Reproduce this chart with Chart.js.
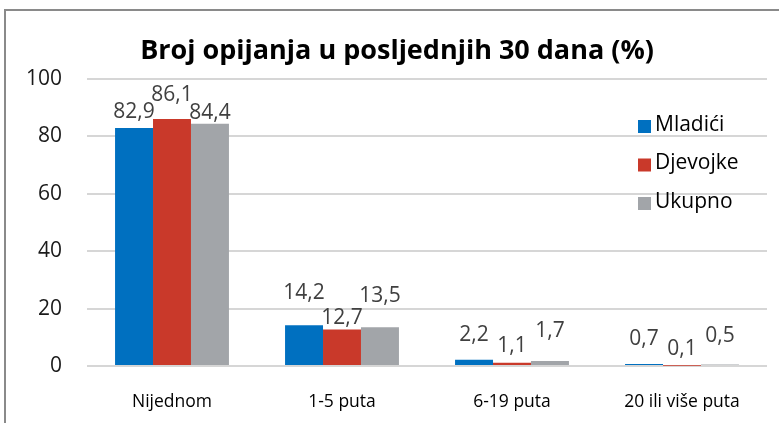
<!DOCTYPE html>
<html>
<head>
<meta charset="utf-8">
<script src="https://cdn.jsdelivr.net/npm/chart.js@4.4.1/dist/chart.umd.min.js"></script>
<style>
  html, body { margin: 0; padding: 0; background: #fff; }
  #wrap { width: 779px; height: 423px; position: relative; }
</style>
</head>
<body>
<div id="wrap"><canvas id="grafik" width="779" height="423"></canvas></div>
<script>
// podaci
const kategorije = ['Nijednom', '1-5 puta', '6-19 puta', '20 ili više puta'];
const serije = ['Mladići', 'Djevojke', 'Ukupno'];
const mladici = [82.9, 14.2, 2.2, 0.7];
const djevojke = [86.1, 12.7, 1.1, 0.1];
const ukupno = [84.4, 13.5, 1.7, 0.5];
const yTicks = [0, 20, 40, 60, 80, 100];
const naslov = 'Broj opijanja u posljednjih 30 dana (%)';

const boje = ['#0070c0', '#c9392a', '#a2a5a9'];
const FONT = "'Open Sans', sans-serif";

// razmak (px) izmedu vrha stupca i oznake, kao u Excelu (oznake se razmicu da se ne preklapaju)
const pomakOznaka = [
    [10, 26, 19, 19],
    [18, 6, 11, 11],
    [5, 25, 24, 23]
];

// okvir, naslov, oznake i legenda
const crtanje = {
    id: 'crtanje',
    beforeDraw(chart) {
        const ctx = chart.ctx;
        ctx.save();
        ctx.strokeStyle = '#8a8a8a';
        ctx.lineWidth = 2;
        ctx.beginPath();
        ctx.moveTo(5, 423);
        ctx.lineTo(5, 10);
        ctx.lineTo(779, 10);
        ctx.stroke();
        ctx.restore();
    },
    afterDatasetsDraw(chart) {
        const ctx = chart.ctx;
        ctx.save();

        // naslov
        ctx.fillStyle = '#000';
        ctx.font = 'bold 27px ' + FONT;
        ctx.textAlign = 'center';
        ctx.textBaseline = 'middle';
        ctx.fillText(naslov, 397, 51);

        // vrijednosti iznad stupaca
        ctx.font = '21px ' + FONT;
        ctx.fillStyle = '#404040';
        ctx.textBaseline = 'alphabetic';
        chart.data.datasets.forEach((ds, i) => {
            chart.getDatasetMeta(i).data.forEach((el, j) => {
                const txt = ds.data[j].toFixed(1).replace('.', ',');
                ctx.fillText(txt, el.x, el.y - pomakOznaka[i][j]);
            });
        });

        // legenda
        ctx.textAlign = 'left';
        ctx.textBaseline = 'middle';
        ctx.font = '21px ' + FONT;
        chart.data.datasets.forEach((ds, i) => {
            const y = 125 + i * 38.5;
            ctx.fillStyle = ds.backgroundColor;
            ctx.fillRect(638, y - 5, 13, 13);
            ctx.fillStyle = '#000';
            ctx.fillText(ds.label, 655, y);
        });
        ctx.restore();
    }
};

new Chart(document.getElementById('grafik').getContext('2d'), {
    type: 'bar',
    data: {
        labels: kategorije,
        datasets: [
            { label: serije[0], data: mladici, backgroundColor: boje[0] },
            { label: serije[1], data: djevojke, backgroundColor: boje[1] },
            { label: serije[2], data: ukupno, backgroundColor: boje[2] }
        ].map(d => Object.assign(d, {
            barPercentage: 1,
            categoryPercentage: 0.67,
            borderWidth: 0
        }))
    },
    options: {
        responsive: false,
        animation: false,
        devicePixelRatio: 1,
        layout: { padding: { top: 79, right: 12, left: 0, bottom: 0 } },
        plugins: {
            legend: { display: false },
            title: { display: false },
            tooltip: { enabled: false }
        },
        scales: {
            x: {
                grid: { display: false, drawTicks: false },
                border: { display: false },
                ticks: {
                    padding: 26,
                    color: '#000',
                    font: { family: FONT, size: 17.5 },
                    maxRotation: 0
                },
                afterFit(scale) { scale.height = 57; }
            },
            y: {
                min: 0,
                max: 100,
                afterBuildTicks(scale) {
                    scale.ticks = yTicks.map(v => ({ value: v }));
                },
                grid: { color: '#d6d6d6', lineWidth: 2, drawTicks: false },
                border: { display: false },
                ticks: {
                    padding: 25,
                    color: '#1a1a1a',
                    font: { family: FONT, size: 21 }
                },
                afterFit(scale) { scale.width = 87; }
            }
        }
    },
    plugins: [crtanje]
});
</script>
</body>
</html>
